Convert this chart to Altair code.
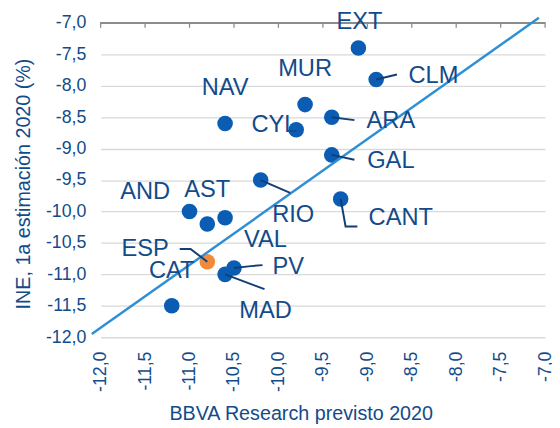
import altair as alt
import pandas as pd

# ---- data ----
regions = ["EXT", "CLM", "MUR", "NAV", "CYL", "ARA", "GAL", "RIO", "CANT",
           "AND", "AST", "VAL", "ESP", "CAT", "PV", "MAD"]
bbva_2020 = [-9.1, -8.9, -9.7, -10.6, -9.8, -9.4, -9.4, -10.2, -9.3,
             -11.0, -10.8, -10.6, -10.8, -11.2, -10.5, -10.6]
ine_2020 = [-7.4, -7.9, -8.3, -8.6, -8.7, -8.5, -9.1, -9.5, -9.8,
            -10.0, -10.2, -10.1, -10.8, -11.5, -10.9, -11.0]
highlight = "ESP"

axis_ticks = [-12.0, -11.5, -11.0, -10.5, -10.0, -9.5, -9.0, -8.5, -8.0, -7.5, -7.0]

diag_x = [-12.1, -7.07]
diag_y = [-11.95, -6.92]

# ---- layout (pixels) ----
W, H = 451, 319
PX_X = W / 5.0
PX_Y = H / 5.0

label_offset = {  # label centre relative to point, px
    "EXT": (1, -26), "CLM": (58, -3), "MUR": (0, -36), "NAV": (0, -36),
    "CYL": (-22, -5), "ARA": (60, 4), "GAL": (60, 6), "RIO": (33, 36),
    "CANT": (61, 19), "AND": (-45, -20), "AST": (0, -34), "VAL": (41, 23),
    "ESP": (-63, -13), "CAT": (0, -35), "PV": (55, -1), "MAD": (41, 37),
}
leader_path = {  # leader-line vertices relative to point, px
    "CLM": [(21, -5)], "ARA": [(23, 3)], "GAL": [(23, 5)], "RIO": [(30, 13)],
    "CANT": [(5, 28), (17, 28)], "ESP": [(-17, -13), (-28, -13)],
    "PV": [(17, -2), (29, -3)], "MAD": [(40, 15)],
}

TEXT = "#124b8a"
FONT = "Liberation Sans"

pts = pd.DataFrame({"region": regions, "x": bbva_2020, "y": ine_2020})
pts["kind"] = ["hl" if r == highlight else "n" for r in regions]
pts["lx"] = [x + label_offset[r][0] / PX_X for r, x in zip(regions, bbva_2020)]
pts["ly"] = [y - label_offset[r][1] / PX_Y for r, y in zip(regions, ine_2020)]

rows = []
for r, x, y in zip(regions, bbva_2020, ine_2020):
    if r in leader_path:
        rows.append({"region": r, "o": 0, "x": x, "y": y})
        for i, (dx, dy) in enumerate(leader_path[r]):
            rows.append({"region": r, "o": i + 1, "x": x + dx / PX_X, "y": y - dy / PX_Y})
leaders = pd.DataFrame(rows)

diag = pd.DataFrame({"x": diag_x, "y": diag_y})
ticks_df = pd.DataFrame({"x": axis_ticks})

xs = alt.Scale(domain=[-12, -7], nice=False, zero=False)
ys = alt.Scale(domain=[-12, -7], nice=False, zero=False)

lab_expr = "replace(replace(format(datum.value, '.1f'), '.', ','), '\u2212', '-')"

x_axis = alt.Axis(
    values=axis_ticks, labelExpr=lab_expr, labelAngle=270, labelPadding=14,
    labelFontSize=18, labelColor=TEXT, labelFont=FONT,
    ticks=False, domain=False, grid=False,
    title="BBVA Research previsto 2020", titleFontSize=20, titleFontWeight="normal",
    titleColor=TEXT, titleFont=FONT, titleX=203, titleY=77,
    titleBaseline="middle", titleAlign="center",
)
y_axis = alt.Axis(
    values=axis_ticks, labelExpr=lab_expr, labelPadding=15,
    labelFontSize=18, labelColor=TEXT, labelFont=FONT,
    ticks=False, domain=False, grid=True, gridColor="#d9d9d9", gridWidth=1.3,
    title="INE,  1a estimación 2020 (%)", titleFontSize=20, titleFontWeight="normal",
    titleColor=TEXT, titleFont=FONT, titleAngle=270, titleX=-78, titleY=163,
    titleBaseline="middle", titleAlign="center",
)

X = lambda f: alt.X(f, scale=xs, axis=x_axis)
Y = lambda f: alt.Y(f, scale=ys, axis=y_axis)

points = alt.Chart(pts).mark_circle(size=250, opacity=1).encode(
    x=X("x:Q"), y=Y("y:Q"),
    color=alt.Color("kind:N", scale=alt.Scale(domain=["n", "hl"], range=["#0b5cb3", "#f28a3a"]), legend=None),
)

top_line = alt.Chart(ticks_df).mark_rule(color="#8c8c8c", strokeWidth=1.3).encode(
    x=alt.value(0), x2=alt.value(W), y=alt.value(0)
)
top_ticks = alt.Chart(ticks_df).mark_rule(color="#8c8c8c", strokeWidth=1.3).encode(
    x=X("x:Q"), y=alt.value(0), y2=alt.value(5)
)

diag_line = alt.Chart(diag).mark_line(color="#2e8fd6", strokeWidth=2.5, clip=False).encode(
    x=X("x:Q"), y=Y("y:Q")
)

leader_lines = alt.Chart(leaders).mark_line(color="#123f73", strokeWidth=2).encode(
    x=X("x:Q"), y=Y("y:Q"),
    detail="region:N", order="o:Q",
)

labels = alt.Chart(pts).mark_text(
    fontSize=24, font=FONT, color=TEXT, align="center", baseline="middle"
).encode(
    x=X("lx:Q"), y=Y("ly:Q"),
    text="region:N",
)

chart = alt.layer(points, top_line, top_ticks, diag_line, leader_lines, labels).properties(
    width=W, height=H,
    autosize=alt.AutoSizeParams(type="none"),
    padding={"left": 94, "top": 12, "right": 7, "bottom": 89},
).configure_view(stroke=None)

chart.save("out.html", embed_options={"renderer": "svg", "actions": False})
